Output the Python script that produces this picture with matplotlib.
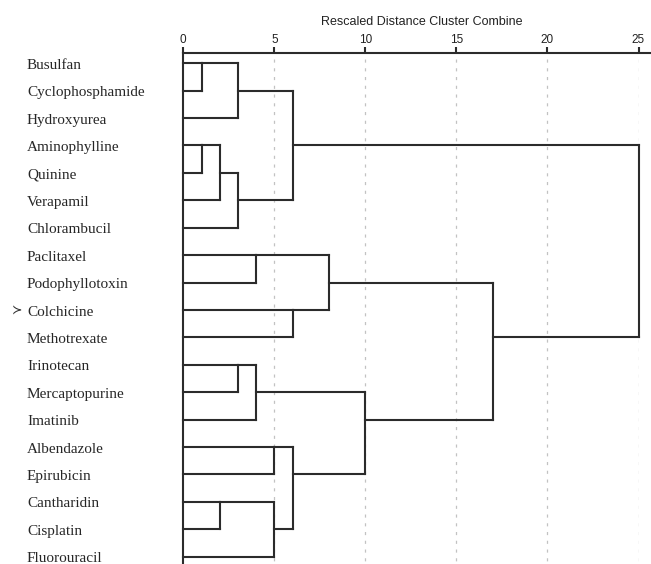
import math
import matplotlib
matplotlib.use("Agg")
import matplotlib.pyplot as plt
import matplotlib.transforms as mtransforms

# Leaves in dendrogram order (top to bottom)
drugs = ["Busulfan", "Cyclophosphamide", "Hydroxyurea", "Aminophylline", "Quinine",
         "Verapamil", "Chlorambucil", "Paclitaxel", "Podophyllotoxin", "Colchicine",
         "Methotrexate", "Irinotecan", "Mercaptopurine", "Imatinib", "Albendazole",
         "Epirubicin", "Cantharidin", "Cisplatin", "Fluorouracil"]

# Agglomeration schedule: (cluster A, cluster B, rescaled distance)
# ids 0..18 are the leaves, each merge creates the next id starting at 19
merge_a = [0, 19, 3, 21, 22, 20, 7, 9, 25, 11, 28, 14, 16, 31, 30, 29, 27, 24]
merge_b = [1, 2, 4, 5, 6, 23, 8, 10, 26, 12, 13, 15, 17, 18, 32, 33, 34, 35]
merge_h = [1, 3, 1, 2, 3, 6, 4, 6, 8, 3, 4, 5, 2, 5, 6, 10, 17, 25]

tick_vals = [0, 5, 10, 15, 20, 25]
marked_drug = "Colchicine"
title = "Rescaled Distance Cluster Combine"

W, H = 651, 564
fig = plt.figure(figsize=(W / 100, H / 100), dpi=100)

x0_px, x25_px = 183.3, 638.5
axis_px = 53.3
row0_px, row_step = 63.3, 27.4
y_top = (axis_px - row0_px) / row_step
y_bot = (H - row0_px) / row_step

ax = fig.add_axes([x0_px / W, 0, (x25_px - x0_px) / W, 1 - axis_px / H])
ax.set_xlim(0, 25)
ax.set_ylim(y_bot, y_top)
for s in ax.spines.values():
    s.set_visible(False)

line_kw = dict(color="#2b2b2b", lw=1.5, solid_capstyle="projecting", clip_on=False)

# Dendrogram links
n = len(drugs)
pos = {i: i for i in range(n)}
height = {i: 0 for i in range(n)}
for k, (a, b, h) in enumerate(zip(merge_a, merge_b, merge_h)):
    ya, yb = pos[a], pos[b]
    ax.plot([height[a], h], [ya, ya], **line_kw)
    ax.plot([height[b], h], [yb, yb], **line_kw)
    ax.plot([h, h], [ya, yb], **line_kw)
    node = n + k
    pos[node] = math.floor((ya + yb) / 2)
    height[node] = h

# Left baseline and top scale line
ax.plot([0, 0], [y_top, y_bot], **line_kw)
ax.plot([0, 25 * (W - x0_px) / (x25_px - x0_px)], [y_top, y_top], **line_kw)

# Dashed guides
for v in tick_vals[1:]:
    ax.plot([v, v], [y_top + 0.2, y_bot], color="#c2c2c2", lw=0.9,
            linestyle=(0, (2.5, 4.5)), zorder=0)

ax.set_xticks(tick_vals)
ax.set_xticklabels([str(v) for v in tick_vals], family="Liberation Sans",
                   fontsize=8.5, color="#222222")
ax.tick_params(axis="x", top=True, labeltop=True, bottom=False, labelbottom=False,
               direction="out", length=4, width=1.5, color="#2b2b2b", pad=1.5)
ax.set_yticks([])

# Leaf labels
trans = mtransforms.blended_transform_factory(fig.transFigure, ax.transData)
for i, name in enumerate(drugs):
    ax.text(27 / W, i + 0.08, name, transform=trans, ha="left", va="center",
            family="Liberation Serif", fontsize=11, color="#262626")
    if name == marked_drug:
        ax.text(12 / W, i + 0.05, "\u227b", transform=trans, ha="left", va="center",
                family="DejaVu Sans", fontsize=9, color="#2a2a2a")

fig.text(422 / W, 1 - 22 / H, title, ha="center", va="center",
         family="Liberation Sans", fontsize=9, color="#222222")

fig.savefig("out.png", dpi=100)
